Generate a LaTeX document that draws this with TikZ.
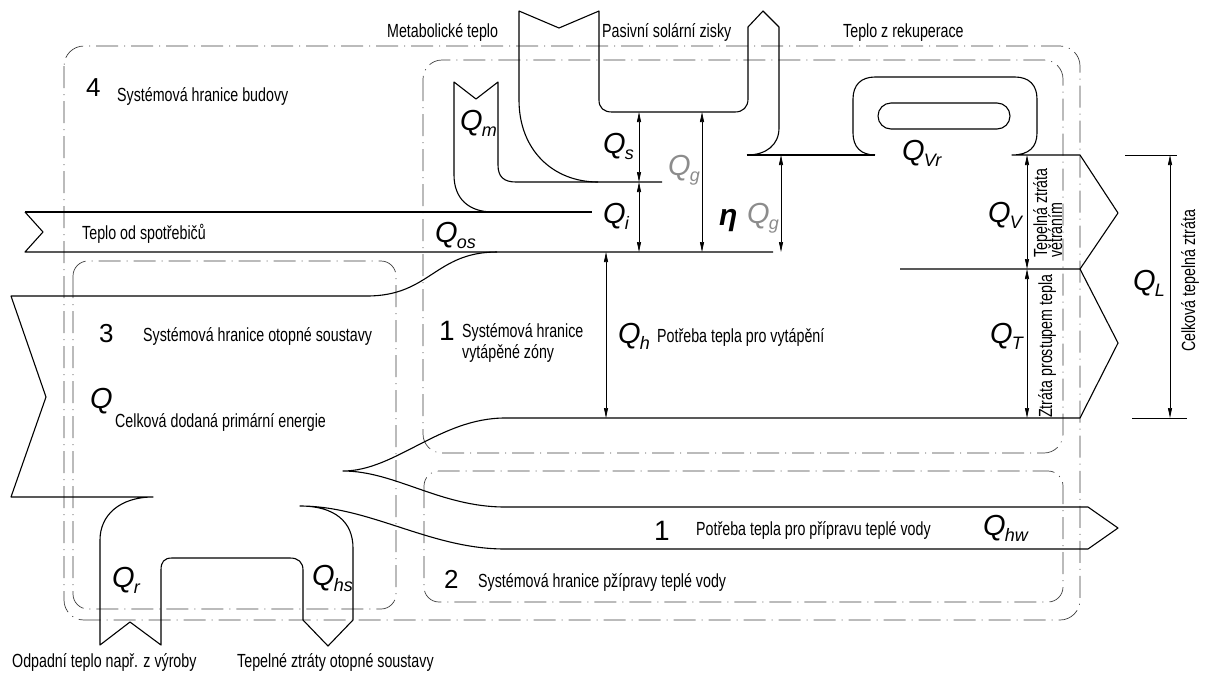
\documentclass[tikz,border=0pt]{standalone}
\usepackage{fontspec}
\setmainfont{Liberation Sans}
\newfontfamily\cadfont[FakeStretch=0.75]{Liberation Sans}
\usetikzlibrary{arrows.meta}
\newcommand\Qsym[2][29]{{\itshape\fontsize{#1}{#1}\selectfont Q}\kern-1pt\raisebox{-6pt}{\itshape\fontsize{18}{18}\selectfont #2}}
\begin{document}
\begin{tikzpicture}[x=1pt,y=-1pt,
  flow/.style={line width=1.1pt, draw=black, line join=round},
  bound/.style={line width=0.7pt, draw=black!75, dash pattern=on 22pt off 6pt on 1pt off 6pt},
  dim/.style={line width=0.7pt, draw=black, {Triangle[length=10pt,width=4pt]}-{Triangle[length=10pt,width=4pt]}},
  ext/.style={line width=0.7pt, draw=black},
  txt/.style={font=\cadfont\fontsize{19}{21}\selectfont, inner sep=0pt, anchor=base west},
  num/.style={font=\fontsize{26}{26}\selectfont, inner sep=0pt, anchor=base west},
  bignum/.style={font=\fontsize{28}{28}\selectfont, inner sep=0pt, anchor=base west},
  qlab/.style={inner sep=0pt, anchor=base west},
]
\fill[white] (0,0) rectangle (1207,673);
\useasboundingbox (0,0) rectangle (1207,673);

% system boundaries
\draw[bound, rounded corners=20pt] (64,46) rectangle (1080,620);
\draw[bound, rounded corners=19pt] (423,60) rectangle (1063,453);
\draw[bound, rounded corners=15pt] (73,261) rectangle (396,609);
\draw[bound, rounded corners=15pt] (424,471) rectangle (1063,602);

% heat from appliances
\draw[flow] (25,212) -- (43,232) -- (25,252) -- (773,252);
\draw[flow] (25,212) -- (592,212);
% metabolic heat
\draw[flow] (493,212) .. controls (468,212) and (454,198) .. (454,175) -- (454,82) -- (476,99) -- (498,82) -- (498,165) .. controls (498,177) and (504,182) .. (516,182) -- (662,182);
% passive solar
\draw[flow] (598,182) .. controls (553,182) and (519,150) .. (519,100) -- (519,11) -- (559,28) -- (599,11) -- (599,100) .. controls (599,108) and (604,112) .. (612,112) -- (735,112) .. controls (743,112) and (748,107) .. (748,99) -- (748,27) -- (763,11) -- (779,27) -- (779,128) .. controls (779,145) and (766,155) .. (747,155);
\draw[flow] (747,155) -- (875,155);
% recuperation and ventilation loss
\draw[flow] (875,155) .. controls (861,155) and (853,147) .. (853,133) -- (853,99) .. controls (853,85) and (861,77) .. (875,77) -- (1015,77) .. controls (1029,77) and (1037,85) .. (1037,99) -- (1037,133) .. controls (1037,147) and (1029,155) .. (1012,155) -- (1080,155) -- (1118,213) -- (1080,269) -- (900,269);
\draw[flow, rounded corners=13pt] (878,103) rectangle (1010,129);
% main energy flows
\draw[flow] (1080,269) -- (1118,343) -- (1080,418) -- (505,418) .. controls (440,418) and (395,471) .. (343,471) .. controls (395,471) and (440,507) .. (505,507) -- (1088,507) -- (1118,528) -- (1088,549) -- (505,549) .. controls (430,549) and (370,506) .. (300,506) .. controls (335,506) and (353,522) .. (353,548) -- (353,620) -- (328,646) -- (303,620) -- (303,570) .. controls (303,562) and (298,558) .. (290,558) -- (172,558) .. controls (164,558) and (161,562) .. (161,570) -- (161,645) -- (130,622) -- (100,645) -- (100,540) .. controls (100,515) and (120,497) .. (153,497) -- (11,497) -- (46,397) -- (11,296) -- (367,296) .. controls (430,296) and (435,252) .. (497,252);

% dimension coordinates
\coordinate (s1) at (639,112); \coordinate (s2) at (639,182); \coordinate (s3) at (639,252);
\coordinate (g1) at (702,112); \coordinate (g2) at (702,252);
\coordinate (e1) at (781,155); \coordinate (e2) at (781,252);
\coordinate (h1) at (606,252); \coordinate (h2) at (606,418);
\coordinate (v1) at (1027,155); \coordinate (v2) at (1027,269); \coordinate (v3) at (1027,418);
\coordinate (l1) at (1170,155); \coordinate (l2) at (1170,418);
\coordinate (la) at (1125,155); \coordinate (lb) at (1177,155);
\coordinate (lc) at (1132,418); \coordinate (ld) at (1187,418);
\draw[dim] (s1) -- (s2);
\draw[dim] (s2) -- (s3);
\draw[dim] (g1) -- (g2);
\draw[dim] (e1) -- (e2);
\draw[dim] (h1) -- (h2);
\draw[dim] (v1) -- (v2);
\draw[dim] (v2) -- (v3);
\draw[dim] (l1) -- (l2);
\draw[ext] (la) -- (lb);
\draw[ext] (lc) -- (ld);

% texts
\node[txt] (tmet) at (387,37) {Metabolické teplo};
\node[txt] (tsol) at (602,37) {Pasivní solární zisky};
\node[txt] (trek) at (843,37) {Teplo z rekuperace};
\node[num] (n4) at (86,96) {4};
\node[txt] (t4) at (117,101) {Systémová hranice budovy};
\node[txt] (tspo) at (82,239) {Teplo od spotřebičů};
\node[num] (n3) at (99,342) {3};
\node[txt] (t3) at (143,341) {Systémová hranice otopné soustavy};
\node[qlab] (qq) at (90,408) {\Qsym{}};
\node[txt] (tq) at (115,427) {Celková dodaná primární energie};
\node[bignum] (n1) at (439,340) {1};
\node[txt] (t1a) at (462,337) {Systémová hranice};
\node[txt] (t1b) at (462,358) {vytápěné zóny};
\node[qlab] (qh) at (618,343) {\Qsym{h}};
\node[txt] (th) at (657,342) {Potřeba tepla pro vytápění};
\node[bignum] (n1b) at (654,540) {1};
\node[txt] (thw) at (696,535) {Potřeba tepla pro přípravu teplé vody};
\node[qlab] (qhw) at (983,535) {\Qsym{hw}};
\node[num] (n2) at (444,588) {2};
\node[txt] (t2) at (478,587) {Systémová hranice pžípravy teplé vody};
\node[qlab] (qr) at (112,587) {\Qsym{r}};
\node[qlab] (qhs) at (312,585) {\Qsym{hs}};
\node[txt] (todp) at (12,667) {Odpadní teplo např. z výroby};
\node[txt] (tztr) at (237,667) {Tepelné ztráty otopné soustavy};
\node[qlab] (qm) at (460,130) {\Qsym{m}};
\node[qlab] (qs) at (603,153) {\Qsym{s}};
\node[qlab, text=black!45] (qg) at (668,175) {\Qsym{g}};
\node[qlab] (qi) at (603,223) {\Qsym{i}};
\node[qlab] (qos) at (435,242) {\Qsym{os}};
\node[qlab] (eta) at (719,225) {\bfseries\itshape\fontsize{30}{30}\selectfont η};
\node[qlab, text=black!45] (qg2) at (747,223) {\Qsym{g}};
\node[qlab] (qvr) at (902,160) {\Qsym{Vr}};
\node[qlab] (qv) at (988,222) {\Qsym{V}};
\node[qlab] (qt) at (990,343) {\Qsym{T}};
\node[qlab] (ql) at (1133,290) {\Qsym{L}};
\node[txt, rotate=90] (tv1) at (1047,258) {Tepelná ztráta};
\node[txt, rotate=90] (tv2) at (1062,258) {větráním};
\node[txt, rotate=90] (tt) at (1052,418) {Ztráta prostupem tepla};
\node[txt, rotate=90] (tl) at (1195,352) {Celková tepelná ztráta};
\end{tikzpicture}
\end{document}
